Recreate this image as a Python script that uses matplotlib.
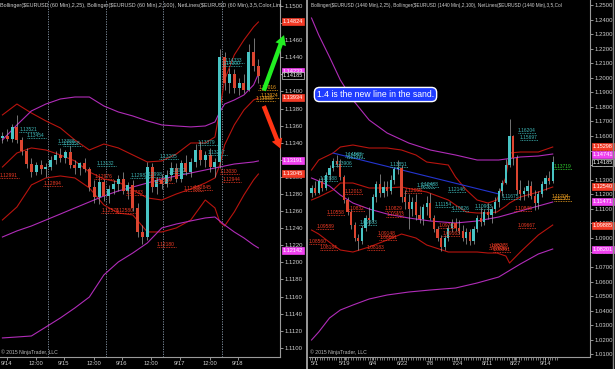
import numpy as np
import matplotlib
matplotlib.use("Agg")
import matplotlib.pyplot as plt
from matplotlib.patches import FancyArrowPatch
from matplotlib.lines import Line2D
from matplotlib.transforms import blended_transform_factory

plt.rcParams['font.family'] = ['Liberation Sans', 'DejaVu Sans']

# ---------------- EURUSD 60 Min (left pane) ----------------
h1_open = [1.1345, 1.1348, 1.1344, 1.1358, 1.1343, 1.1330, 1.1315, 1.1306, 1.1314, 1.1309,
           1.1312, 1.1320, 1.1326, 1.1322, 1.1329, 1.1314, 1.1310, 1.1316, 1.1309, 1.1288,
           1.1276, 1.1294, 1.1278, 1.1286, 1.1292, 1.1298, 1.1284, 1.1290, 1.1264, 1.1236,
           1.1230, 1.1312, 1.1288, 1.1296, 1.1292, 1.1302, 1.1310, 1.1298, 1.1316, 1.1306,
           1.1318, 1.1332, 1.1320, 1.1326, 1.1312, 1.1318, 1.1440, 1.1410, 1.1420, 1.1404,
           1.1410, 1.1402, 1.1446, 1.1430]
h1_high = [1.1352, 1.1356, 1.1362, 1.1372, 1.1347, 1.1334, 1.1322, 1.1318, 1.1320, 1.1316,
           1.1324, 1.1330, 1.1334, 1.1332, 1.1336, 1.1320, 1.1318, 1.1322, 1.1312, 1.1296,
           1.1300, 1.1298, 1.1290, 1.1296, 1.1302, 1.1306, 1.1294, 1.1296, 1.1270, 1.1244,
           1.1318, 1.1316, 1.1300, 1.1304, 1.1308, 1.1318, 1.1316, 1.1320, 1.1326, 1.1322,
           1.1338, 1.1342, 1.1330, 1.1334, 1.1322, 1.1450, 1.1446, 1.1428, 1.1426, 1.1416,
           1.1420, 1.1455, 1.1462, 1.1438]
h1_low = [1.1340, 1.1342, 1.1341, 1.1340, 1.1326, 1.1310, 1.1300, 1.1302, 1.1303, 1.1300,
          1.1308, 1.1315, 1.1318, 1.1316, 1.1310, 1.1304, 1.1302, 1.1306, 1.1284, 1.1270,
          1.1268, 1.1272, 1.1270, 1.1280, 1.1284, 1.1280, 1.1274, 1.1260, 1.1230, 1.1222,
          1.1226, 1.1282, 1.1280, 1.1286, 1.1288, 1.1296, 1.1294, 1.1294, 1.1302, 1.1300,
          1.1312, 1.1314, 1.1312, 1.1306, 1.1300, 1.1310, 1.1402, 1.1398, 1.1398, 1.1396,
          1.1398, 1.1400, 1.1424, 1.1410]
h1_close = [1.1348, 1.1344, 1.1358, 1.1343, 1.1330, 1.1315, 1.1306, 1.1314, 1.1309, 1.1312,
            1.1320, 1.1326, 1.1322, 1.1329, 1.1314, 1.1310, 1.1316, 1.1309, 1.1288, 1.1276,
            1.1294, 1.1278, 1.1286, 1.1292, 1.1298, 1.1284, 1.1290, 1.1264, 1.1236, 1.1230,
            1.1312, 1.1288, 1.1296, 1.1292, 1.1302, 1.1310, 1.1298, 1.1316, 1.1306, 1.1318,
            1.1332, 1.1320, 1.1326, 1.1312, 1.1318, 1.1440, 1.1410, 1.1420, 1.1404, 1.1410,
            1.1402, 1.1446, 1.1430, 1.1418]

h1_ticks = ['9/14', '12:00', '9/15', '12:00', '9/16', '12:00', '9/17', '12:00', '9/18']

# Bollinger(25) and Bollinger(100), sampled at these bars
h1_band_bars = [0, 3, 6, 9, 12, 15, 18, 21, 24, 27, 30, 33, 36, 39, 42, 44, 45, 46, 48, 50, 52, 53]
h1_bb25_up = [1.13725, 1.13853, 1.13748, 1.13655, 1.13573, 1.13432, 1.13315, 1.13385, 1.13339, 1.13257,
              1.13175, 1.13187, 1.13268, 1.13397, 1.13397, 1.13467, 1.13783, 1.14134, 1.14427, 1.14602,
              1.14754, 1.14813]
h1_bb25_mid = [1.13116, 1.13280, 1.13339, 1.13315, 1.13257, 1.13187, 1.13058, 1.12976, 1.12941, 1.12847,
               1.12754, 1.12730, 1.12800, 1.12859, 1.12929, 1.12988, 1.13140, 1.13374, 1.13608, 1.13783,
               1.13900, 1.13924]
h1_bb25_lo = [1.12496, 1.12648, 1.12906, 1.12988, 1.13011, 1.12988, 1.12871, 1.12672, 1.12578, 1.12555,
              1.12356, 1.12356, 1.12403, 1.12496, 1.12730, 1.12637, 1.12473, 1.12426, 1.12590, 1.12789,
              1.12965, 1.13034]
h1_bb100_up = [1.13432, 1.13608, 1.13772, 1.13853, 1.13912, 1.13935, 1.13935, 1.13830, 1.13760, 1.13713,
               1.13655, 1.13608, 1.13596, 1.13585, 1.13596, 1.13643, 1.13760, 1.13853, 1.13900, 1.13959,
               1.14076, 1.14204]
h1_bb100_mid = [1.12297, 1.12368, 1.12426, 1.12496, 1.12566, 1.12637, 1.12707, 1.12777, 1.12836, 1.12882,
                1.12929, 1.12976, 1.13011, 1.13046, 1.13081, 1.13105, 1.13116, 1.13128, 1.13151, 1.13163,
                1.13175, 1.13187]
h1_bb100_lo = [1.11116, 1.11127, 1.11139, 1.11244, 1.11350, 1.11467, 1.11595, 1.11853, 1.12005, 1.12110,
               1.12227, 1.12403, 1.12449, 1.12485, 1.12520, 1.12531, 1.12485, 1.12438, 1.12356, 1.12286,
               1.12204, 1.12169]

# NetLines levels (bar, value)
h1_net_hi = [(4, '1.13521'), (5.5, '1.13454'), (12, '1.13388'), (13, '1.13358'), (20, '1.13132'),
             (27, '1.12983'), (30, '1.12998'), (33, '1.13205'), (35, '1.13042'), (41, '1.13379'),
             (43, '1.13257'), (46, '1.14300'), (46.5, '1.14333')]
h1_net_lo = [(0, '1.12991'), (9, '1.12894'), (19.5, '1.12976'), (21, '1.12576'), (24, '1.12580'),
             (26, '1.12783'), (32, '1.12934'), (32.5, '1.12180'), (38, '1.12833'), (40, '1.12845'),
             (45.5, '1.13030'), (46, '1.12944')]
h1_net_mid = [(53.5, '1.14016'), (54, '1.13924'), (53, '1.13888')]

h1_tags = [('1.14824', 'red'), ('1.14233', 'mag'), ('1.14185', 'last'), ('1.13934', 'red'),
           ('1.13191', 'mag'), ('1.13045', 'red'), ('1.12142', 'mag')]

# ---------------- EURUSD 1440 Min (right pane) ----------------
d1_open = [1.1210, 1.1240, 1.1210, 1.1290, 1.1240, 1.1330, 1.1380, 1.1430, 1.1410, 1.1320,
           1.1160, 1.1080, 1.0990, 1.0900, 1.0880, 1.0970, 1.1040, 1.1020, 1.1180, 1.1270,
           1.1210, 1.1250, 1.1220, 1.1300, 1.1370, 1.1380, 1.1180, 1.1150, 1.1100, 1.1150,
           1.1060, 1.1030, 1.1110, 1.1140, 1.1040, 1.0960, 1.0900, 1.0840, 1.0900, 1.0970,
           1.1000, 1.0970, 1.0950, 1.0900, 1.0940, 1.0880, 1.0960, 1.1040, 1.1010, 1.1080,
           1.1060, 1.1100, 1.1150, 1.1220, 1.1280, 1.1400, 1.1600, 1.1450, 1.1230, 1.1200,
           1.1220, 1.1260, 1.1190, 1.1140, 1.1200, 1.1270, 1.1310, 1.1290]
d1_high = [1.1265, 1.1290, 1.1310, 1.1320, 1.1350, 1.1400, 1.1450, 1.1467, 1.1440, 1.1330,
           1.1180, 1.1100, 1.1010, 1.0930, 1.0990, 1.1060, 1.1110, 1.1200, 1.1290, 1.1340,
           1.1290, 1.1290, 1.1330, 1.1390, 1.1436, 1.1400, 1.1230, 1.1200, 1.1180, 1.1200,
           1.1120, 1.1130, 1.1190, 1.1210, 1.1060, 1.0980, 1.0920, 1.0920, 1.0990, 1.1030,
           1.1040, 1.1020, 1.0990, 1.0970, 1.0960, 1.0980, 1.1060, 1.1110, 1.1100, 1.1140,
           1.1120, 1.1180, 1.1240, 1.1300, 1.1440, 1.1714, 1.1610, 1.1470, 1.1300, 1.1250,
           1.1300, 1.1290, 1.1230, 1.1220, 1.1290, 1.1330, 1.1360, 1.1460]
d1_low = [1.1180, 1.1195, 1.1200, 1.1220, 1.1230, 1.1300, 1.1360, 1.1390, 1.1300, 1.1140,
          1.1060, 1.0960, 1.0880, 1.0819, 1.0860, 1.0950, 1.0990, 1.1010, 1.1150, 1.1180,
          1.1180, 1.1190, 1.1200, 1.1270, 1.1340, 1.1150, 1.1100, 1.0960, 1.1050, 1.1020,
          1.1000, 1.0990, 1.1060, 1.1020, 1.0940, 1.0880, 1.0810, 1.0820, 1.0880, 1.0940,
          1.0950, 1.0930, 1.0880, 1.0860, 1.0850, 1.0860, 1.0940, 1.0980, 1.0990, 1.1030,
          1.1000, 1.1070, 1.1110, 1.1190, 1.1270, 1.1390, 1.1400, 1.1200, 1.1160, 1.1160,
          1.1180, 1.1170, 1.1090, 1.1100, 1.1180, 1.1230, 1.1270, 1.1280]
d1_close = [1.1240, 1.1210, 1.1290, 1.1240, 1.1330, 1.1380, 1.1430, 1.1410, 1.1320, 1.1160,
            1.1080, 1.0990, 1.0900, 1.0880, 1.0970, 1.1040, 1.1020, 1.1180, 1.1270, 1.1210,
            1.1250, 1.1220, 1.1300, 1.1370, 1.1380, 1.1180, 1.1150, 1.1100, 1.1150, 1.1060,
            1.1030, 1.1110, 1.1140, 1.1040, 1.0960, 1.0900, 1.0840, 1.0900, 1.0970, 1.1000,
            1.0970, 1.0950, 1.0900, 1.0940, 1.0880, 1.0960, 1.1040, 1.1010, 1.1080, 1.1060,
            1.1100, 1.1150, 1.1220, 1.1280, 1.1400, 1.1600, 1.1450, 1.1230, 1.1200, 1.1220,
            1.1260, 1.1190, 1.1140, 1.1200, 1.1270, 1.1310, 1.1290, 1.1419]

d1_ticks = ['5/1', '5/19', '6/4', '6/22', '7/8', '7/24', '8/11', '8/27', '9/14']

d1_bb25_bars = [0, 2, 6, 8, 11.5, 16, 21, 25, 29, 32, 38, 40, 43, 46, 49, 51.5, 54, 55, 58, 63, 67]
d1_bb25_up = [1.13664, 1.14352, 1.14832, 1.15245, 1.15382, 1.15176, 1.15176, 1.15038, 1.14695, 1.14214,
              1.14008, 1.13184, 1.12291, 1.11604, 1.11397, 1.11604, 1.13184, 1.14832, 1.14901, 1.14901,
              1.15245]
d1_bb25_mid = [1.11604, 1.11810, 1.12291, 1.12771, 1.12771, 1.12428, 1.12428, 1.12497, 1.12291, 1.12153,
               1.11604, 1.11260, 1.10779, 1.10710, 1.10710, 1.10779, 1.11191, 1.11397, 1.11810, 1.12153,
               1.12497]
d1_bb25_lo = [1.09543, 1.09267, 1.08512, 1.08169, 1.08031, 1.08375, 1.08855, 1.09267, 1.08993, 1.08512,
              1.08031, 1.08031, 1.08031, 1.08031, 1.07962, 1.07962, 1.07756, 1.07275, 1.08031, 1.09199,
              1.09886]
d1_bb100_bars = [0, 2, 5, 8, 11.5, 16, 21, 27, 33, 40, 46, 52, 58, 63, 67]
d1_bb100_up = [1.24107, 1.22939, 1.21428, 1.19848, 1.18474, 1.17100, 1.16206, 1.15519, 1.15038, 1.14695,
               1.14352, 1.14352, 1.14558, 1.14626, 1.14764]
d1_bb100_mid = [1.13115, 1.12909, 1.12565, 1.11947, 1.11397, 1.10985, 1.10642, 1.10367, 1.10161, 1.10023,
                1.10161, 1.10436, 1.10848, 1.11191, 1.11466]
d1_bb100_lo = [1.01986, 1.02536, 1.03498, 1.04047, 1.04390, 1.04802, 1.05077, 1.05283, 1.05421, 1.05558,
               1.05902, 1.06314, 1.07207, 1.07894, 1.08237]

d1_trend_bars = [6, 52]
d1_trend_vals = [1.1483, 1.1202]

d1_net_hi = [(3, '1.12888'), (7, '1.13906'), (10, '1.14583'), (10.5, '1.14507'), (14, '1.09883'),
             (22.5, '1.13851'), (30, '1.12427'), (31, '1.12488'), (35, '1.11154'), (38.5, '1.12146'),
             (39.5, '1.10826'), (46, '1.10963'), (53.5, '1.11675'), (58, '1.16204'), (58.5, '1.15697')]
d1_net_lo = [(2, '1.09589'), (5, '1.10558'), (10, '1.12013'), (10.5, '1.10832'), (0, '1.08560'),
             (3, '1.08184'), (16, '1.08183'), (19, '1.09148'), (19.5, '1.08861'), (21, '1.10829'),
             (21.5, '1.10403'), (26.5, '1.12056'), (36, '1.09703'), (37, '1.09163'), (50, '1.08242'),
             (50.5, '1.08273'), (51, '1.08001'), (57, '1.10846'), (58, '1.09667')]
d1_net_mid = [(67.5, '1.11704'), (68, '1.11507')]
d1_net_last = [(68, '1.13719')]

d1_tags = [('1.15298', 'red'), ('1.14741', 'mag'), ('1.14185', 'last'), ('1.12540', 'red'),
           ('1.11471', 'mag'), ('1.09885', 'red'), ('1.08201', 'mag')]

# ---------------- styling ----------------
UP = '#48c4c4'
DN = '#dc4530'
WICK = '#b4b4b4'
BB25 = '#b8140e'
BB100 = '#b02cb8'
TXT = '#cfcfcf'
TAGC = {'red': '#f23a26', 'mag': '#f040f0', 'last': 'black'}

fig = plt.figure(figsize=(6.15, 3.69), dpi=100, facecolor='black')
axL = fig.add_axes([0, 12 / 369, 280 / 615, 357 / 369])
axR = fig.add_axes([309 / 615, 12 / 369, 281 / 615, 357 / 369])


def frame(ax, xmax, ylim, yticks):
    ax.set_facecolor('black')
    ax.set_xlim(0, xmax)
    ax.set_ylim(*ylim)
    for s in ['top', 'left']:
        ax.spines[s].set_visible(False)
    for s in ['right', 'bottom']:
        ax.spines[s].set_color('#9a9a9a')
        ax.spines[s].set_linewidth(0.8)
    ax.yaxis.tick_right()
    ax.set_yticks(yticks)
    ax.set_yticklabels([f'{v:.4f}' for v in yticks])
    ax.tick_params(axis='y', colors=TXT, labelsize=4.3, length=2, width=0.5, pad=1)
    ax.tick_params(axis='x', which='both', colors=TXT, labelsize=4.2, length=2, width=0.5, pad=1)


def candles(ax, xs, o, h, l, c, w):
    xs, o, h, l, c = map(np.asarray, (xs, o, h, l, c))
    up = c >= o
    ax.vlines(xs, l, h, colors=WICK, lw=0.45, zorder=3)
    ax.bar(xs[up], (c - o)[up], bottom=o[up], width=w, color=UP, lw=0, zorder=4)
    ax.bar(xs[~up], (o - c)[~up], bottom=c[~up], width=w, color=DN, lw=0, zorder=4)


def netlines(ax, items, color, span):
    for x, t in items:
        y = float(t)
        ax.hlines(y, x, x + span, colors=color, linestyles=(0, (1, 1)), lw=0.6, zorder=5)
        ax.text(x, y, t, color=color, fontsize=3.5, va='bottom', ha='left', zorder=6)


def tags(ax, items, xoff):
    tr = blended_transform_factory(ax.transAxes, ax.transData)
    for t, kind in items:
        ec = '#d0d0d0' if kind == 'last' else TAGC[kind]
        ax.text(1 + xoff, float(t), t, transform=tr, fontsize=4.0, color='white',
                va='center', ha='left', clip_on=False, zorder=10,
                bbox=dict(boxstyle='square,pad=0.18', fc=TAGC[kind], ec=ec, lw=0.5))


# left pane
frame(axL, 280 / 4.83, (1.10893, 1.15070), np.round(np.arange(1.110, 1.1501, 0.002), 4))
nL = len(h1_close)
xL = np.arange(nL) + 0.5
for gx in [48, 106, 163, 222]:
    axL.axvline(gx / 4.83, color='#8a9aaa', lw=0.6, ls=(0, (1.5, 1.5)), zorder=1)
axL.set_xticks([p / 4.83 for p in [7, 36, 64, 94, 122, 151, 180, 210, 238]])
axL.set_xticklabels(h1_ticks)
bxL = np.array(h1_band_bars) + 0.5
for vals in (h1_bb25_up, h1_bb25_mid, h1_bb25_lo):
    axL.plot(bxL, vals, color=BB25, lw=0.8, zorder=2)
for vals in (h1_bb100_up, h1_bb100_mid, h1_bb100_lo):
    axL.plot(bxL, vals, color=BB100, lw=0.8, zorder=2)
candles(axL, xL, h1_open, h1_high, h1_low, h1_close, 0.62)
netlines(axL, h1_net_hi, '#3fb8b8', 4)
netlines(axL, h1_net_lo, '#f03a24', 4)
netlines(axL, h1_net_mid, '#f0a020', 4)
tags(axL, h1_tags, 3 / 280)

# right pane
frame(axR, 281 / 3.6, (1.00818, 1.25344), np.round(np.arange(1.01, 1.2501, 0.01), 2))
nR = len(d1_close)
xR = np.arange(nR) + 0.7
axR.set_xticks([(p - 309) / 3.6 for p in [315, 345, 373, 402, 430, 457, 487, 515, 545]])
axR.set_xticklabels(d1_ticks)
axR.set_xticks(np.arange(0.3, 69, 2 / 3), minor=True)
axR.tick_params(axis='x', which='minor', length=2.5, width=0.4, color=TXT)
for vals in (d1_bb25_up, d1_bb25_mid, d1_bb25_lo):
    axR.plot(np.array(d1_bb25_bars) + 0.7, vals, color=BB25, lw=0.8, zorder=2)
for vals in (d1_bb100_up, d1_bb100_mid, d1_bb100_lo):
    axR.plot(np.array(d1_bb100_bars) + 0.7, vals, color=BB100, lw=0.8, zorder=2)
axR.plot(np.array(d1_trend_bars) + 0.7, d1_trend_vals, color='#2435d0', lw=0.8, zorder=2)
candles(axR, xR, d1_open, d1_high, d1_low, d1_close, 0.62)
netlines(axR, d1_net_hi, '#3fb8b8', 5)
netlines(axR, d1_net_lo, '#f03a24', 5)
netlines(axR, d1_net_mid, '#f0a020', 5)
netlines(axR, d1_net_last, '#30d030', 5)
tags(axR, d1_tags, 3 / 281)

# indicator headers (as far as they are visible) and copyright
axL.text(0.0, 0.992, 'Bollinger($EURUSD (60 Min),2,25), Bollinger($EURUSD (60 Min),2,100), '
         'NetLines($EURUSD (60 Min),3,5,Color,Lim', transform=axL.transAxes,
         fontsize=3.85, color=TXT, va='top', ha='left')
axR.text(0.007, 0.992, 'Bollinger($EURUSD (1440 Min),2,25), Bollinger($EURUSD (1440 Min),2,100), '
         'NetLines($EURUSD (1440 Min),3,5,Col', transform=axR.transAxes,
         fontsize=3.45, color=TXT, va='top', ha='left')
for ax in (axL, axR):
    ax.text(0.002, 0.006, '\u00a9 2015 NinjaTrader, LLC', transform=ax.transAxes,
            fontsize=3.7, color='#bcbcbc', va='bottom', ha='left')

# bull / bear arrows next to the 60 min price scale
for (x0, y0), (x1, y1), col in [((54.4, 1.1398), (59.0, 1.1469), '#22ee22'),
                                ((54.4, 1.1386), (58.3, 1.1330), '#ff3414')]:
    axL.add_patch(FancyArrowPatch((x0, y0), (x1, y1),
                                  arrowstyle='simple,head_length=7,head_width=8,tail_width=3.2',
                                  mutation_scale=1, color=col, lw=0, clip_on=False, zorder=12))

# panel separators
fig.add_artist(Line2D([306.5 / 615] * 2, [0, 1], color='#b4b4b4', lw=1.2))
fig.add_artist(Line2D([612.5 / 615] * 2, [0, 1], color='#8c8c8c', lw=1.0))

fig.text(375.5 / 615, 1 - 94.5 / 369, '1.4 is the new line in the sand.', fontsize=6.2,
         color='white', ha='center', va='center',
         bbox=dict(boxstyle='round,pad=0.3,rounding_size=0.6', fc='#1f3cff', ec='white', lw=1.0))

fig.savefig('out.png', dpi=100, facecolor='black')
